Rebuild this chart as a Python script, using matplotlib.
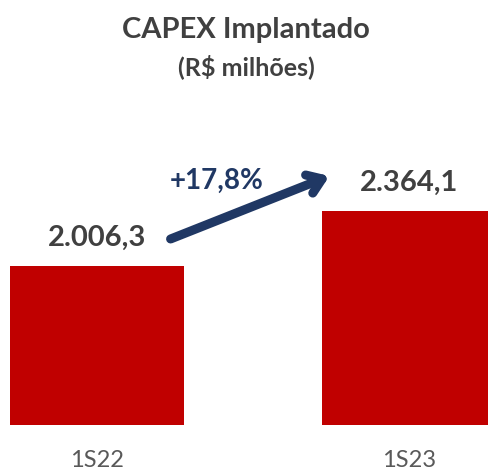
import matplotlib
matplotlib.use("Agg")
import matplotlib.pyplot as plt
from matplotlib.patches import FancyArrowPatch

plt.rcParams["font.family"] = ["Lato", "DejaVu Sans"]

categories = ["1S22", "1S23"]
values = [2006.3, 2364.1]
value_labels = ["2.006,3", "2.364,1"]
growth_label = "+17,8%"

RED = "#C00000"
GRAY = "#404040"
NAVY = "#203864"

fig = plt.figure(figsize=(4.88, 4.71), dpi=100)
ax = fig.add_axes([0, 46 / 471, 1, 425 / 471])

x = list(range(len(categories)))
ax.bar(x, values, width=0.56, color=RED)
ax.set_xlim(-0.311, 1.253)
ax.set_ylim(972, 3737)

for xi, v, lab in zip(x, values, value_labels):
    ax.annotate(lab, (xi, v), xytext=(0, 11), textcoords="offset points",
                ha="center", va="bottom", fontsize=21, fontweight="bold", color=GRAY)

ax.set_xticks(x)
ax.set_xticklabels(categories, fontsize=17, color="#595959")
ax.tick_params(axis="x", length=0, pad=18)
ax.set_yticks([])
for s in ax.spines.values():
    s.set_visible(False)

# growth arrow between the bars
arrow = FancyArrowPatch((168 / 488, 1 - 240 / 471), (332 / 488, 1 - 175 / 471),
                        transform=fig.transFigure,
                        arrowstyle="->,head_length=10,head_width=7",
                        color=NAVY, lw=6.5, capstyle="round", joinstyle="round")
fig.patches.append(arrow)
fig.text(217 / 488, 1 - 181 / 471, growth_label, ha="center", va="center",
         fontsize=20, fontweight="bold", color=NAVY)

fig.text(246 / 488, 1 - 30 / 471, "CAPEX Implantado", ha="center", va="center",
         fontsize=21, fontweight="bold", color=GRAY)
fig.text(246 / 488, 1 - 67 / 471, "(R$ milhões)", ha="center", va="center",
         fontsize=18, fontweight="bold", color=GRAY)

fig.savefig("out.png", dpi=100)
